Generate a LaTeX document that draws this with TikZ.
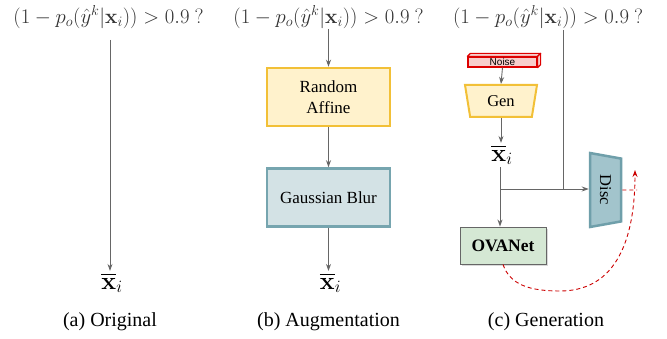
\documentclass[tikz,border=0pt]{standalone}
\usepackage{exscale}
\usepackage[no-math]{fontspec}
\setmainfont{Liberation Serif}
\newfontfamily\arialfont{Liberation Sans}
\usetikzlibrary{shapes.geometric,arrows.meta,shadows}

\definecolor{linegrey}{HTML}{666666}
\definecolor{formulagrey}{HTML}{333333}
\definecolor{affinefill}{HTML}{FFF2CC}
\definecolor{affinedraw}{HTML}{F2C037}
\definecolor{blurfill}{HTML}{D3E2E5}
\definecolor{blurdraw}{HTML}{76A5AF}
\definecolor{discfill}{HTML}{A2C4CC}
\definecolor{discdraw}{HTML}{6F9FAA}
\definecolor{ovafill}{HTML}{D5E8D4}
\definecolor{ovadraw}{HTML}{666666}
\definecolor{noisefill}{HTML}{F8CECC}
\definecolor{noisedraw}{HTML}{DD0000}
\definecolor{fbred}{HTML}{CC0000}

\begin{document}
\begin{tikzpicture}[x=1pt,y=-1pt,
  flow/.style={draw=linegrey, line width=0.9pt, -{Stealth[length=7pt,width=5pt]}},
  plain/.style={draw=linegrey, line width=0.9pt},
  fbdash/.style={draw=fbred, line width=0.9pt, dash pattern=on 4pt off 3pt},
  formula/.style={text=formulagrey, font=\fontsize{20}{24}\selectfont, inner sep=0pt},
  caption/.style={font=\fontsize{20}{24}\selectfont, inner sep=0pt},
  xbar/.style={font=\fontsize{24.5}{28}\selectfont, inner sep=2pt},
  box/.style={rectangle, minimum width=123pt, minimum height=58pt, line width=2.5pt,
    font=\fontsize{17}{21}\selectfont, align=center, inner sep=0pt},
  noise/.style={rectangle, draw=noisedraw, fill=noisefill, line width=1.2pt,
    minimum width=69pt, minimum height=10pt, inner sep=0pt,
    font=\arialfont\fontsize{10}{10}\selectfont},
  gen/.style={trapezium, trapezium stretches body, shape border rotate=180,
    trapezium angle=65, minimum width=72pt, minimum height=32pt, inner sep=0pt,
    fill=affinefill, draw=affinedraw, line width=2pt, font=\fontsize{16.5}{20}\selectfont},
  disc/.style={trapezium, trapezium stretches body, rotate=-90,
    trapezium angle=63.4, minimum width=74pt, minimum height=31pt, inner sep=0pt,
    fill=discfill, draw=discdraw, line width=2.5pt, font=\fontsize{16.5}{20}\selectfont},
  ova/.style={rectangle, minimum width=86pt, minimum height=37pt, inner sep=0pt,
    fill=ovafill, draw=ovadraw, line width=0.9pt,
    drop shadow={shadow xshift=2pt, shadow yshift=-2pt, opacity=0.3},
    font=\bfseries\fontsize{17.5}{20}\selectfont}
]
\useasboundingbox (0,0) rectangle (667,339);

% ---- (a) Original ----
\node[formula] (fa) at (108.5,17) {$(1-p_o(\hat{y}^k|\mathbf{x}_i)) > 0.9\ ?$};
\coordinate (ta) at (110,40);
\node[xbar] (xa) at (112,283) {$\overline{\mathbf{x}}_i$};
\draw[flow] (ta) -- (ta |- xa.north);
\node[caption] (ca) at (110,322) {(a) Original};

% ---- (b) Augmentation ----
\node[formula] (fb) at (328.5,17) {$(1-p_o(\hat{y}^k|\mathbf{x}_i)) > 0.9\ ?$};
\coordinate (tb) at (328.5,29);
\node[box, fill=affinefill, draw=affinedraw] (ra) at (328.5,97) {Random\\Affine};
\node[box, fill=blurfill, draw=blurdraw] (gb) at (328.5,197.5) {Gaussian Blur};
\node[xbar] (xb) at (330.5,283) {$\overline{\mathbf{x}}_i$};
\draw[flow] (tb) -- (ra.north);
\draw[flow] (ra.south) -- (gb.north);
\draw[flow] (gb.south) -- (gb.south |- xb.north);
\node[caption] (cb) at (328.5,322) {(b) Augmentation};

% ---- (c) Generation ----
\node[formula] (fc) at (548,17) {$(1-p_o(\hat{y}^k|\mathbf{x}_i)) > 0.9\ ?$};
\coordinate (tc) at (563,30);

% noise block drawn as a flat cuboid
\node[noise] (nz) at (502.5,62) {Noise};
\draw[draw=noisedraw, fill=noisefill, line width=1.2pt, line join=round]
  (nz.north west) -- ++(3,-3) -- ([shift={(3,-3)}]nz.north east) -- (nz.north east) -- cycle;
\draw[draw=noisedraw, fill=noisefill, line width=1.2pt, line join=round]
  (nz.north east) -- ++(3,-3) -- ([shift={(3,-3)}]nz.south east) -- (nz.south east) -- cycle;

\node[gen] (gen) at (501,101) {Gen};
\node[xbar] (xc) at (502,155) {$\overline{\mathbf{x}}_i$};
\node[ova] (ova) at (503,245.5) {OVANet};
\node[disc] (disc) at (605.5,190) {Disc};

\coordinate (br) at (500,189);
\draw[flow] (nz.south) -- (gen.north);
\draw[flow] (gen.south) -- (gen.south |- xc.north);
\draw[flow] (xc.south -| br) -- (br |- ova.north);
\draw[flow] (br) -- (br -| disc.south);
\draw[plain] (tc) -- (tc |- br);

% feedback from the discriminator to the classifier
\coordinate (fbbot) at (560,291);
\coordinate (fbtop) at (635,170);
\coordinate (dend) at (637,190);
\draw[fbdash, -{Stealth[length=7pt,width=5pt]}] (ova.south)
  .. controls (510,285) and (530,291) .. (fbbot)
  .. controls (610,291) and (635,250) .. (fbtop);
\draw[fbdash] (disc.north) -- (dend);

\node[caption] (cc) at (546,322) {(c) Generation};
\end{tikzpicture}
\end{document}
